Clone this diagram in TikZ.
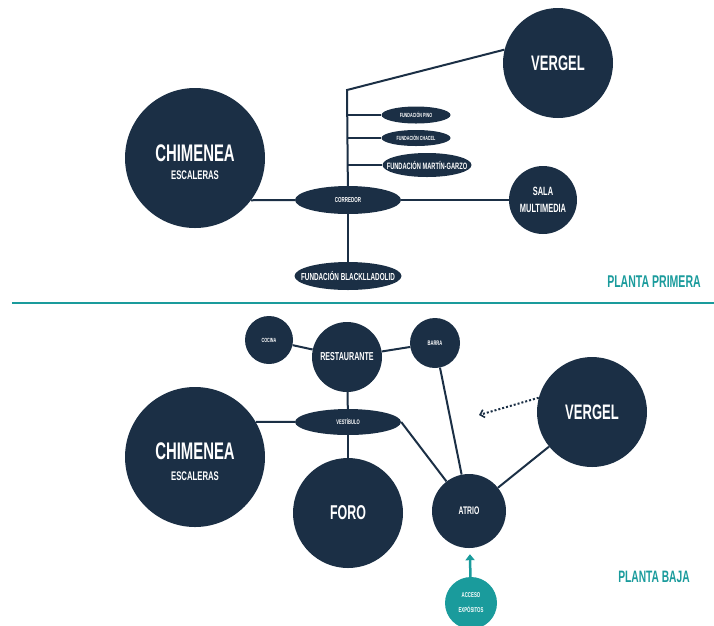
\documentclass[tikz,border=0pt]{standalone}
\usepackage{fontspec}
\newfontfamily\bb[FakeStretch=0.62]{Liberation Sans}
\usetikzlibrary{arrows.meta,shapes.geometric}
\definecolor{navy}{HTML}{1B2F45}
\definecolor{tealc}{HTML}{1A9B9C}
\newcommand\myfs[1]{\fontsize{#1}{#1}\selectfont}
\begin{document}
\begin{tikzpicture}[x=1pt,y=-1pt,
  bub/.style={circle,fill=navy,text=white,inner sep=0pt,align=center,font=\bb\bfseries,minimum size=#1},
  ell/.style n args={2}{ellipse,fill=navy,inner sep=0pt,minimum width=#1,minimum height=#2},
  etxt/.style={text=white,font=\bb\bfseries,inner sep=0pt,align=center},
  link/.style={draw=navy,line width=2pt},
  ttl/.style={text=tealc,font=\bb\bfseries\myfs{17}}]
\useasboundingbox (0,0) rectangle (714,625);

% ---------- PLANTA PRIMERA ----------
\node[bub=140,label={[etxt,yshift=-4pt]center:{\myfs{24}CHIMENEA}\\[6pt]{\myfs{12.5}ESCALERAS}}] (chimA) at (195,158) {};
\node[bub=110] (vtop) at (558,63) {\myfs{21}VERGEL};
\node[bub=68] (sala) at (543,200) {\myfs{12}SALA\\[5pt]\myfs{12}MULTIMEDIA};
\node[ell={106}{28},label={[etxt]center:\myfs{7.2}CORREDOR}] (corr) at (348,200) {};
\node[ell={69}{17},label={[etxt]center:\myfs{6}FUNDACIÓN PINO}] (pino) at (416,115) {};
\node[ell={69}{16},label={[etxt]center:\myfs{6}FUNDACIÓN CHACEL}] (chacel) at (416,138) {};
\node[ell={89}{24},label={[etxt]center:\myfs{9.2}FUNDACIÓN MARTÍN-GARZO}] (garzo) at (427,165) {};
\node[ell={107}{28},label={[etxt]center:\myfs{10.2}FUNDACIÓN BLACKLLADOLID}] (black) at (348,276) {};
\coordinate (top) at (347,90);
\coordinate (b1) at (347,115);
\coordinate (b2) at (347,138);
\coordinate (b3) at (347,165);

\draw[link] (vtop.166) -- (top) -- (corr);
\draw[link] (corr) -- (black);
\draw[link] (b1) -- (pino);
\draw[link] (b2) -- (chacel);
\draw[link] (b3) -- (garzo);
\draw[link] (corr) -- (chimA.-37);
\draw[link] (corr) -- (sala);

\node[ttl] (pp) at (654,282) {PLANTA PRIMERA};
\coordinate (sepL) at (12,303);
\coordinate (sepR) at (714,303);
\draw[tealc,line width=2.5pt] (sepL) -- (sepR);

% ---------- PLANTA BAJA ----------
\node[bub=48] (cocina) at (269,340) {\myfs{6}COCINA};
\node[bub=70] (rest) at (347,357) {\myfs{11.5}RESTAURANTE};
\node[bub=50] (barra) at (435,343) {\myfs{6.6}BARRA};
\node[ell={106}{26},label={[etxt]center:\myfs{6.6}VESTÍBULO}] (vest) at (348,422) {};
\node[bub=140,label={[etxt,yshift=-5pt]center:{\myfs{24}CHIMENEA}\\[9pt]{\myfs{12.5}ESCALERAS}}] (chimB) at (195,457) {};
\node[bub=110] (foro) at (348,513) {\myfs{20}FORO};
\node[bub=74] (atrio) at (469,511) {\myfs{11}ATRIO};
\node[bub=110] (vbot) at (592,412) {\myfs{21}VERGEL};
\node[bub=52,fill=tealc] (acceso) at (471,603) {\myfs{7}ACCESO\\[3pt]\myfs{7}EXPÓSITOS};
\coordinate (arrEnd) at (479,415);

\draw[link] (cocina) -- (rest);
\draw[link] (rest) -- (barra);
\draw[link] (rest) -- (vest);
\draw[link] (vest) -- (chimB.30);
\draw[link] (vest) -- (foro);
\draw[link] (vest.east) -- (atrio);
\draw[link] (barra) -- (atrio);
\draw[link] (vbot) -- (atrio);
\draw[navy,line width=2pt,dotted,-{Straight Barb[length=4pt,width=8pt,line width=1.6pt]}] (vbot.165) -- (arrEnd);
\draw[tealc,line width=2.5pt,-{Triangle[length=6pt,width=9pt]},shorten >=6pt] (acceso) -- (atrio);

\node[ttl,font=\bb\bfseries\myfs{16.5}] (pb) at (654,577) {PLANTA BAJA};
\end{tikzpicture}
\end{document}
